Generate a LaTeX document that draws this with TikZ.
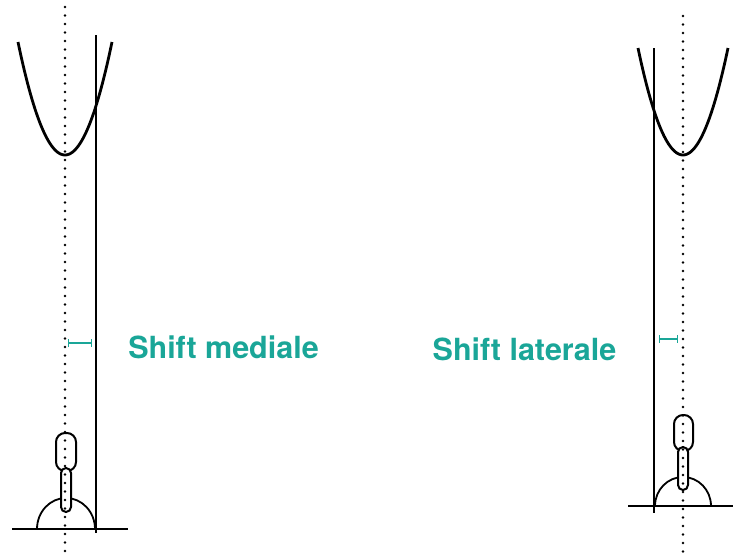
\documentclass[tikz,border=0pt]{standalone}
\usepackage{fontspec}
\setmainfont{TeX Gyre Heros}
\usepackage{tikz}
\usetikzlibrary{arrows.meta}
\definecolor{shiftgreen}{RGB}{26,166,152}

\begin{document}
\begin{tikzpicture}[x=1pt, y=1pt,
        axisline/.style={line width=2.6pt, line cap=round, dash pattern=on 0pt off 8.5pt},
        cupline/.style={line width=2.8pt},
        stemline/.style={line width=2pt, fill=white},
        shiftbar/.style={shiftgreen, line width=1.2pt, {Bar[width=8pt]}-{Bar[width=8pt]}},
        shiftlabel/.style={text=shiftgreen, font=\fontsize{30.5}{36}\selectfont\bfseries}]
    \useasboundingbox (0,0) rectangle (733,-558);
    % medial shift (left)
        \draw[line width=1.5pt] (12,-529) -- (128,-529);
        \draw[line width=1.5pt] (96,-35) -- (96,-533);
        \draw[cupline] plot[domain=-47:47, samples=60] ({65+\x},{-155+113*(\x/47)^2});
        \draw[line width=1.8pt] (37,-529) arc[start angle=180, end angle=0, x radius=29, y radius=31];
        \draw[stemline, rounded corners=9] (56,-433) rectangle (76,-471);
        \draw[stemline, rounded corners=5] (61,-468) rectangle (71,-512);
        \draw[axisline] (65,-7) -- (65,-558);
        \coordinate (medA) at (68,-343);
        \coordinate (medB) at (92,-343);
        \draw[shiftbar] (medA) -- (medB);
        \node[shiftlabel] (medtext) at (223.5,-347) {Shift mediale};
    % lateral shift (right)
        \draw[line width=1.5pt] (628,-506) -- (733,-506);
        \draw[line width=1.5pt] (654,-48) -- (654,-513);
        \draw[cupline] plot[domain=-45:45, samples=60] ({683+\x},{-155+107*(\x/45)^2});
        \draw[line width=1.8pt] (655,-506) arc[start angle=180, end angle=0, x radius=28, y radius=29];
        \draw[stemline, rounded corners=9] (674,-415) rectangle (693,-451);
        \draw[stemline, rounded corners=5] (678,-447) rectangle (688,-490);
        \draw[axisline] (683,-16) -- (683,-558);
        \coordinate (latA) at (659,-339);
        \coordinate (latB) at (678,-339);
        \draw[shiftbar] (latA) -- (latB);
        \node[shiftlabel] (lattext) at (524.5,-349) {Shift laterale};
\end{tikzpicture}
\end{document}
